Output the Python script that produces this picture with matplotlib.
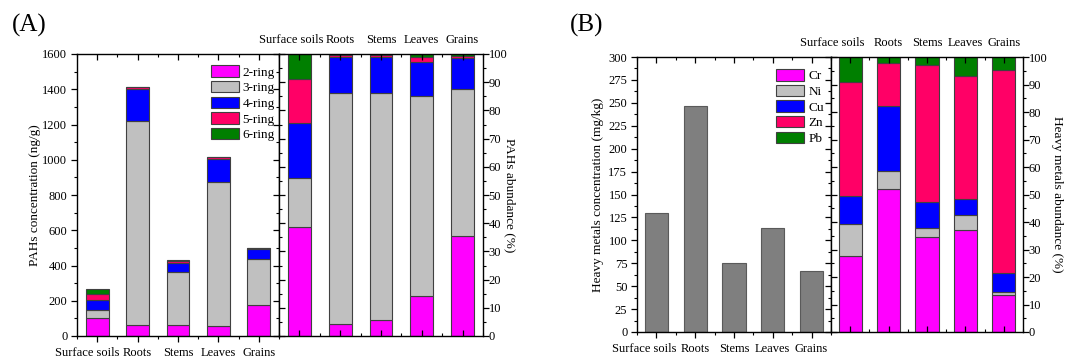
import matplotlib
matplotlib.use("Agg")
import matplotlib.pyplot as plt
import numpy as np
from matplotlib.ticker import MultipleLocator, FixedLocator
from matplotlib.transforms import ScaledTranslation
from matplotlib import lines

plt.rcParams['font.family'] = ['Liberation Serif', 'DejaVu Serif']
plt.rcParams['font.size'] = 9.5
plt.rcParams['xtick.labelsize'] = 9
plt.rcParams['ytick.labelsize'] = 9

sites = ['Surface soils', 'Roots', 'Stems', 'Leaves', 'Grains']

# PAHs concentration (ng/g), stacked by ring number
rings = ['2-ring', '3-ring', '4-ring', '5-ring', '6-ring']
pah_conc = {
    '2-ring': [104, 61, 61, 57, 178],
    '3-ring': [44, 1159, 303, 818, 258],
    '4-ring': [55, 183, 53, 129, 57],
    '5-ring': [38, 9, 8, 9, 5],
    '6-ring': [27, 3, 4, 4, 2],
}
# PAHs abundance (%) as drawn in the right-hand stack
pah_pct = {
    '2-ring': [38.7, 4.4, 5.6, 14.2, 35.5],
    '3-ring': [17.5, 81.6, 80.4, 70.9, 52.1],
    '4-ring': [19.2, 13.1, 12.8, 12.2, 10.9],
    '5-ring': [15.7, 0.6, 0.8, 1.75, 0.9],
    '6-ring': [8.9, 0.3, 0.4, 0.95, 0.6],
}

# heavy metals
metals = ['Cr', 'Ni', 'Cu', 'Zn', 'Pb']
hm_total = [129.5, 246.6, 75.8, 113.9, 66.7]
hm_pct = {
    'Cr': [27.7, 51.9, 34.7, 37.1, 13.5],
    'Ni': [11.5, 6.6, 3.0, 5.5, 1.0],
    'Cu': [10.3, 23.6, 9.7, 5.9, 7.1],
    'Zn': [41.4, 15.7, 49.6, 44.6, 73.8],
    'Pb': [9.1, 2.2, 3.0, 6.9, 4.6],
}

colors = ['#ff00ff', '#c0c0c0', '#0000ff', '#ff0066', '#007f00']
edge = '#404040'

W, H = 1067, 360
fig = plt.figure(figsize=(W / 100, H / 100), dpi=100)


def px_axes(x0, y0, x1, y1):
    return fig.add_axes([x0 / W, 1 - y1 / H, (x1 - x0) / W, (y1 - y0) / H])


def common(ax, major, minor, top):
    ax.set_xlim(-0.5, 4.5)
    ax.set_ylim(0, top)
    ax.set_xticks(range(5))
    ax.set_xticklabels(sites)
    ax.xaxis.set_minor_locator(FixedLocator(np.arange(-0.5, 5, 1)))
    ax.yaxis.set_major_locator(MultipleLocator(major))
    ax.yaxis.set_minor_locator(MultipleLocator(minor))
    for sp in ax.spines.values():
        sp.set_linewidth(1.0)


def style_left(ax, major, minor, top):
    common(ax, major, minor, top)
    ax.tick_params(which='both', left=True, bottom=True, top=True, right=True,
                   labelleft=True, labelbottom=True, direction='out')
    ax.tick_params(which='major', length=4, width=0.9)
    ax.tick_params(which='minor', length=2.5, width=0.8)
    ax.tick_params(axis='y', pad=3)
    ax.tick_params(axis='x', pad=4)
    # mirrored ticks (top / right) point inwards
    for t in ax.xaxis.get_major_ticks() + ax.xaxis.get_minor_ticks():
        t.tick2line.set_marker(lines.TICKDOWN)
    for t in ax.yaxis.get_major_ticks() + ax.yaxis.get_minor_ticks():
        t.tick2line.set_marker(lines.TICKLEFT)


def style_right(ax):
    common(ax, 10, 5, 100)
    ax.tick_params(which='both', left=True, right=True, top=True, bottom=True,
                   labelleft=False, labelright=True, labeltop=True, labelbottom=False,
                   direction='in')
    ax.tick_params(which='major', length=4, width=0.9)
    ax.tick_params(which='minor', length=2.5, width=0.8)
    ax.tick_params(axis='y', pad=4)
    ax.tick_params(axis='x', pad=6)
    for t in ax.yaxis.get_major_ticks() + ax.yaxis.get_minor_ticks():
        t.tick2line.set_marker(lines.TICKRIGHT)


def shift_first(ax, dx_px, top=False):
    t = ax.xaxis.get_major_ticks()[0]
    lab = t.label2 if top else t.label1
    lab.set_transform(lab.get_transform() + ScaledTranslation(dx_px / 100, 0, fig.dpi_scale_trans))


x = np.arange(len(sites))
leg_kw = dict(frameon=False, handlelength=2.1, handleheight=0.95, labelspacing=0.18,
              handletextpad=0.3, borderaxespad=0.0, loc='upper right')

# ---------- (A) PAHs ----------
axA1 = px_axes(77, 54, 279, 336)
bottom = np.zeros(5)
for r, c in zip(rings, colors):
    v = np.array(pah_conc[r], dtype=float)
    axA1.bar(x, v, 0.56, bottom=bottom, color=c, edgecolor=edge, linewidth=0.8, label=r)
    bottom += v
style_left(axA1, 200, 100, 1600)
axA1.set_ylabel('PAHs concentration (ng/g)', labelpad=1)
axA1.legend(bbox_to_anchor=(1.005, 0.978), **leg_kw)

axA2 = px_axes(279, 54, 483, 336)
bottom = np.zeros(5)
for r, c in zip(rings, colors):
    v = np.array(pah_pct[r], dtype=float)
    axA2.bar(x, v, 0.56, bottom=bottom, color=c, edgecolor=edge, linewidth=0.8)
    bottom += v
style_right(axA2)
axA2.yaxis.set_label_position('right')
axA2.set_ylabel('PAHs abundance (%)', rotation=270, labelpad=6)

# ---------- (B) heavy metals ----------
axB1 = px_axes(637, 57, 831, 332)
axB1.bar(x, hm_total, 0.6, color='#7f7f7f', edgecolor='#5a5a5a', linewidth=0.8)
style_left(axB1, 25, 12.5, 300)
axB1.set_ylabel('Heavy metals concentration (mg/kg)', labelpad=3)

axB2 = px_axes(831, 57, 1023, 332)
bottom = np.zeros(5)
for m, c in zip(metals, colors):
    v = np.array(hm_pct[m], dtype=float)
    axB2.bar(x, v, 0.6, bottom=bottom, color=c, edgecolor=edge, linewidth=0.8, label=m)
    bottom += v
style_right(axB2)
axB2.yaxis.set_label_position('right')
axB2.set_ylabel('Heavy metals abundance (%)', rotation=270, labelpad=11)
handles, labels = axB2.get_legend_handles_labels()
axB1.legend(handles, labels, bbox_to_anchor=(0.99, 0.975), **leg_kw)

# the long first category label sits a little left of its tick
shift_first(axA1, -10)
shift_first(axA2, -8, top=True)
shift_first(axB1, -12)
shift_first(axB2, -18, top=True)

fig.text(12 / W, 1 - 25 / H, '(A)', fontsize=18, va='center', ha='left')
fig.text(570 / W, 1 - 25 / H, '(B)', fontsize=18, va='center', ha='left')

fig.savefig('out.png', dpi=100)
